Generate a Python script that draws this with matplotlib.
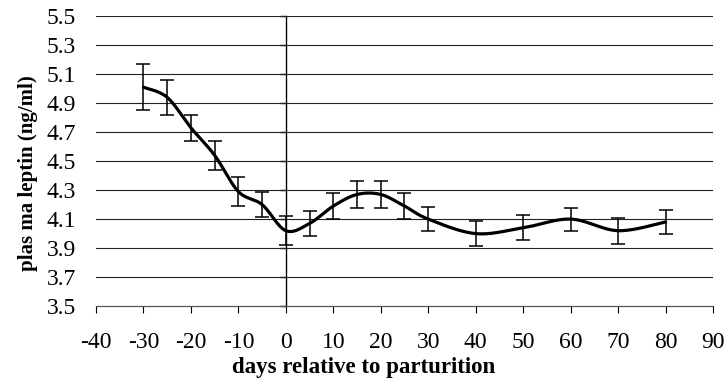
import numpy as np
import matplotlib
matplotlib.use('Agg')
import matplotlib.pyplot as plt

days = [-30, -25, -20, -15, -10, -5, 0, 5, 10, 15, 20, 25, 30, 40, 50, 60, 70, 80]
leptin = [5.01, 4.94, 4.73, 4.54, 4.29, 4.20, 4.02, 4.07, 4.19, 4.27, 4.27, 4.19, 4.10, 4.00, 4.04, 4.10, 4.02, 4.08]
sem = [0.16, 0.12, 0.09, 0.10, 0.10, 0.085, 0.10, 0.085, 0.09, 0.09, 0.09, 0.09, 0.085, 0.088, 0.085, 0.08, 0.09, 0.085]

x_ticks = list(range(-40, 91, 10))
y_ticks = [3.5, 3.7, 3.9, 4.1, 4.3, 4.5, 4.7, 4.9, 5.1, 5.3, 5.5]


def smooth_curve(xs, ys, n=30):
    # spreadsheet-style smoothed line: cubic bezier segments through each point
    p = np.column_stack([xs, ys]).astype(float)
    out = [p[0]]
    t = np.linspace(0, 1, n)[1:, None]
    for i in range(len(p) - 1):
        prev = p[i - 1] if i > 0 else p[i]
        nxt = p[i + 2] if i + 2 < len(p) else p[i + 1]
        c1 = p[i] + (p[i + 1] - prev) / 6
        c2 = p[i + 1] - (nxt - p[i]) / 6
        seg = ((1 - t) ** 3) * p[i] + 3 * ((1 - t) ** 2) * t * c1 \
            + 3 * (1 - t) * t ** 2 * c2 + t ** 3 * p[i + 1]
        out.extend(seg)
    out = np.array(out)
    return out[:, 0], out[:, 1]


plt.rcParams['font.family'] = 'Liberation Serif'
plt.rcParams['axes.unicode_minus'] = False

fig = plt.figure(figsize=(7.24, 3.85), dpi=100)
ax = fig.add_axes([0.1326, 0.205, 0.8522, 0.753])

xmin, xmax = -40, 90
ax.set_xlim(xmin, xmax)
ax.set_ylim(3.5, 5.5)

for y in y_ticks[1:]:
    ax.axhline(y, color='#222222', lw=0.8, zorder=1)

sx, sy = smooth_curve(days, leptin)
ax.plot(sx, sy, color='black', lw=2.3, solid_capstyle='round', zorder=3)
ax.errorbar(days, leptin, yerr=sem, fmt='none', ecolor='black', elinewidth=1.1,
            capsize=5, capthick=1.1, zorder=4)

for side in ['top', 'right', 'left']:
    ax.spines[side].set_visible(False)
ax.spines['bottom'].set_color('#555555')
ax.spines['bottom'].set_linewidth(0.9)

ax.set_xticks(x_ticks)
ax.set_yticks(y_ticks)
ax.set_yticklabels([f'{v:.1f}' for v in y_ticks])
ax.tick_params(axis='x', direction='out', length=5, width=0.8, colors='black',
               labelsize=17, pad=13.5)
ax.tick_params(axis='y', length=0, labelsize=17, pad=14.5)

# vertical axis crossing at day 0
zero = ax.secondary_yaxis((0 - xmin) / (xmax - xmin))
zero.spines['left'].set_linewidth(1.0)
zero.set_yticks(y_ticks)
zero.tick_params(axis='y', direction='out', length=4, width=1.0, labelleft=False)

ax.set_xlabel('days relative to parturition', fontsize=16.5, fontweight='bold')
ax.set_ylabel('plas ma leptin (ng/ml)', fontsize=15, fontweight='bold')
ax.xaxis.set_label_coords(0.433, -0.176)
ax.yaxis.set_label_coords(-0.094, 0.46)

fig.savefig('out.png', dpi=100)
